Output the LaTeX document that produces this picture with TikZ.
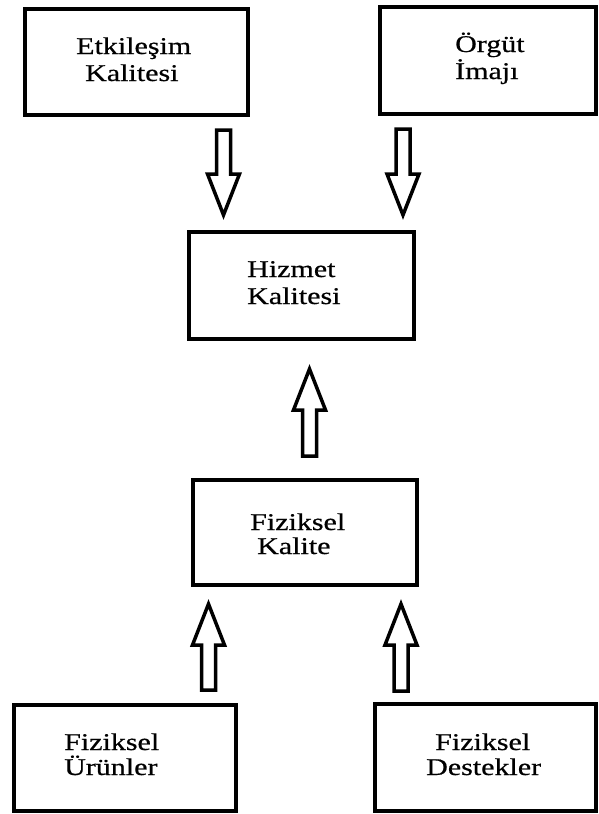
\documentclass[tikz,border=0pt]{standalone}
\usepackage{fontspec}
\setmainfont{Liberation Serif}[FakeStretch=1.25, FakeBold=0.6]
\usetikzlibrary{calc}

\tikzset{
  box/.style={draw, line width=4pt, rectangle, inner sep=0pt, outer sep=0pt},
  txt/.style={anchor=base west, inner sep=0pt, font=\fontsize{24}{28}\selectfont},
  blk/.style={draw, line width=3.5pt, miter limit=10, fill=white},
  % hollow block arrow pointing down (y grows downward in this picture)
  downblk/.style={to path={let \p1=(\tikztostart), \p2=(\tikztotarget) in
    (\x1-7pt,\y1) -- (\x1-7pt,\y2+41pt) -- (\x1-16pt,\y2+41pt) -- (\x2,\y2)
    -- (\x1+16pt,\y2+41pt) -- (\x1+7pt,\y2+41pt) -- (\x1+7pt,\y1) -- cycle}},
  % hollow block arrow pointing up
  upblk/.style={to path={let \p1=(\tikztostart), \p2=(\tikztotarget) in
    (\x1-7pt,\y1) -- (\x1-7pt,\y2-41pt) -- (\x1-16pt,\y2-41pt) -- (\x2,\y2)
    -- (\x1+16pt,\y2-41pt) -- (\x1+7pt,\y2-41pt) -- (\x1+7pt,\y1) -- cycle}},
}

\begin{document}
\begin{tikzpicture}[x=1pt, y=-1pt]
  \path[use as bounding box, fill=white] (0,0) rectangle (598,814);

  % boxes
  \node[box, minimum width=223pt, minimum height=106pt] (etk) at (136.5,62) {};
  \node[box, minimum width=216pt, minimum height=107pt] (org) at (488,60.5) {};
  \node[box, minimum width=225pt, minimum height=107pt] (hiz) at (301.5,285.5) {};
  \node[box, minimum width=224pt, minimum height=105pt] (fkal) at (305,532.5) {};
  \node[box, minimum width=222pt, minimum height=106pt] (urun) at (125,758) {};
  \node[box, minimum width=221pt, minimum height=107pt] (dest) at (485.5,757.5) {};

  % labels
  \node[txt] (etk1) at (76,54) {Etkileşim};
  \node[txt] (etk2) at (85,81) {Kalitesi};
  \node[txt] (org1) at (455,52) {Örgüt};
  \node[txt] (org2) at (455,79) {İmajı};
  \node[txt] (hiz1) at (247,277) {Hizmet};
  \node[txt] (hiz2) at (247,304) {Kalitesi};
  \node[txt] (fkal1) at (250,530) {Fiziksel};
  \node[txt] (fkal2) at (257,554) {Kalite};
  \node[txt] (urun1) at (64,750) {Fiziksel};
  \node[txt] (urun2) at (64,775) {Ürünler};
  \node[txt] (dest1) at (435,750) {Fiziksel};
  \node[txt] (dest2) at (426,775) {Destekler};

  % arrow end points
  \coordinate (a1s) at (223.5,130);
  \coordinate (a1e) at (223.5,215);
  \coordinate (a2s) at (403,129);
  \coordinate (a2e) at (403,215);
  \coordinate (a3s) at (309.5,456);
  \coordinate (a3e) at (309.5,369);
  \coordinate (a4s) at (208.5,690);
  \coordinate (a4e) at (208.5,604);
  \coordinate (a5s) at (401,691);
  \coordinate (a5e) at (401,604);

  % block arrows
  \draw[blk] (a1s) to[downblk] (a1e);
  \draw[blk] (a2s) to[downblk] (a2e);
  \draw[blk] (a3s) to[upblk] (a3e);
  \draw[blk] (a4s) to[upblk] (a4e);
  \draw[blk] (a5s) to[upblk] (a5e);
\end{tikzpicture}
\end{document}
